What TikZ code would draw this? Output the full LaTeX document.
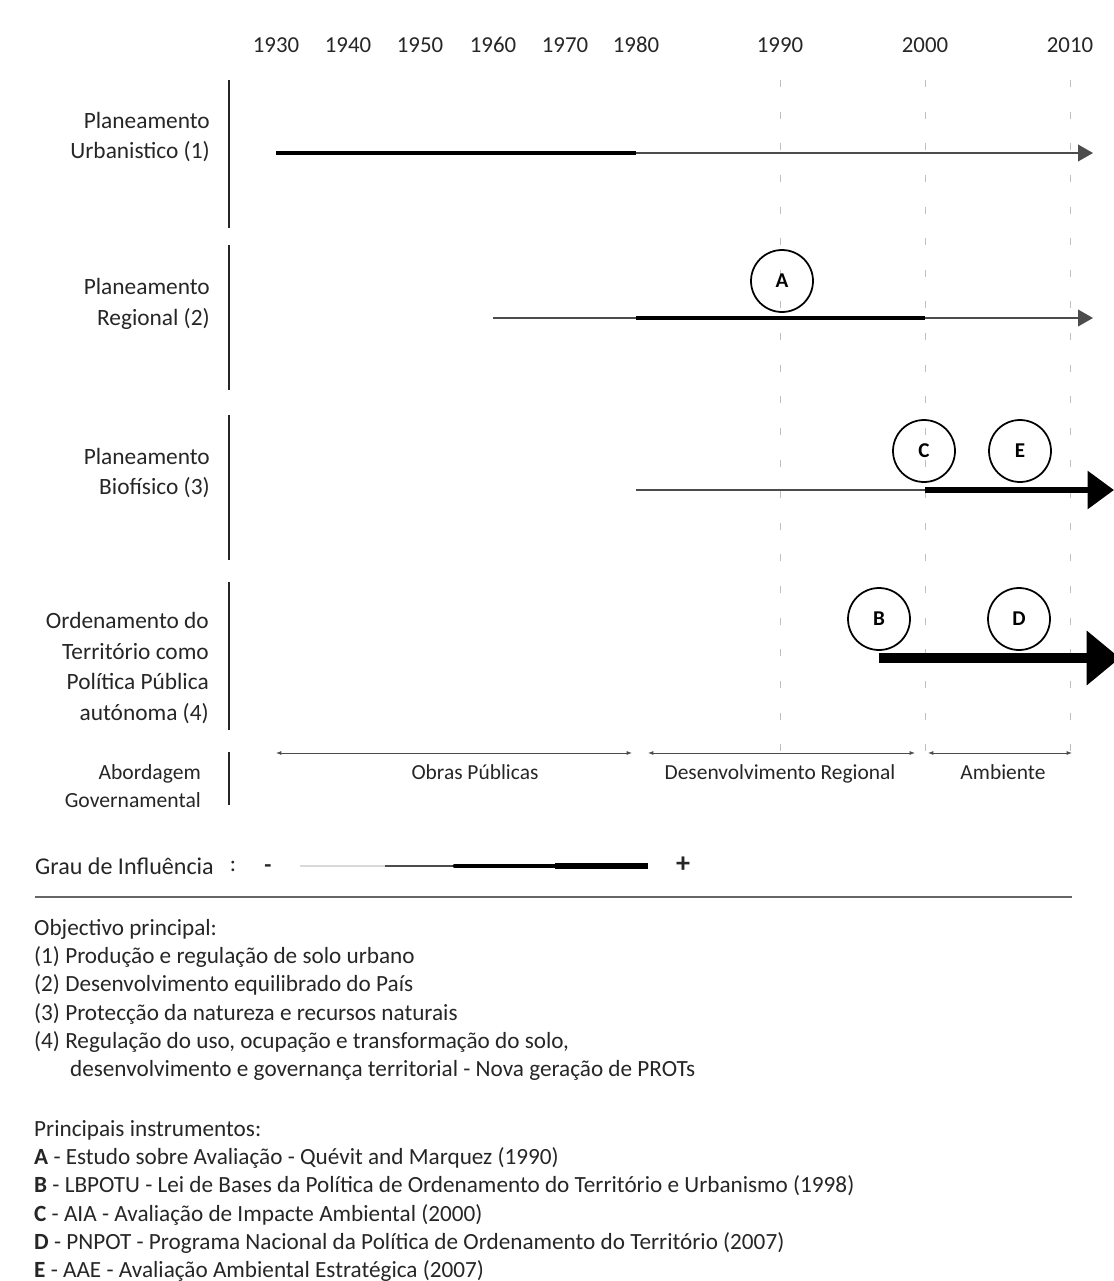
\documentclass[tikz,border=0pt]{standalone}
\usepackage{fontspec}
\setmainfont{Carlito}
\usetikzlibrary{arrows.meta}

\tikzset{
  year/.style={font=\fontsize{13}{15}\selectfont, text=black!85},
  rowlabel/.style={anchor=east, align=right, text=black!85,
    font=\fontsize{13.3}{17.5}\selectfont},
  bar/.style={line width=1.7pt, black!85},
  guide/.style={black!25, line width=0.4pt, dash pattern=on 4pt off 14pt},
  weak/.style={line width=0.8pt, black!70},
  strong/.style={line width=2.3pt},
  stronger/.style={line width=3.4pt},
  strongest/.style={line width=5.7pt},
  instr/.style={draw, circle, line width=1pt, minimum size=1.24cm,
    font=\fontsize{12}{14}\selectfont\bfseries},
  span/.style={line width=0.5pt, black!70, {Latex[length=3pt]}-{Latex[length=3pt]}},
  small/.style={font=\fontsize{12.2}{14}\selectfont, text=black!85,
    text height=1.6ex, text depth=0.5ex},
  legend/.style={anchor=north west, align=left, text=black!85,
    font=\fontsize{13.2}{16.1}\selectfont}
}

\begin{document}
\begin{tikzpicture}[x=0.02cm, y=-0.02cm]
\useasboundingbox (0,0) rectangle (1114,1281);

\node[year] (y1930) at (276,45) {1930};
\node[year] (y1940) at (348,45) {1940};
\node[year] (y1950) at (420,45) {1950};
\node[year] (y1960) at (493,45) {1960};
\node[year] (y1970) at (565,45) {1970};
\node[year] (y1980) at (636,45) {1980};
\node[year] (y1990) at (780,45) {1990};
\node[year] (y2000) at (925,45) {2000};
\node[year] (y2010) at (1070,45) {2010};

\coordinate (top) at (0,80);
\coordinate (r1) at (0,153);
\coordinate (r2) at (0,318);
\coordinate (r3) at (0,490);
\coordinate (r4) at (0,658);
\coordinate (ab) at (0,753);

\foreach \yr in {1990,2000,2010}
  \draw[guide] (y\yr |- top) -- (y\yr |- ab);

\draw[bar] (229,80) -- (229,228);
\draw[bar] (229,245) -- (229,390);
\draw[bar] (229,415) -- (229,560);
\draw[bar] (229,582) -- (229,730);
\draw[bar] (229,752) -- (229,805);

\node[rowlabel] (l1) at (216,137) {Planeamento\\Urbanistico (1)};
\node[rowlabel] (l2) at (216,304) {Planeamento\\Regional (2)};
\node[rowlabel] (l3) at (216,473) {Planeamento\\Biofísico (3)};
\node[rowlabel] (l4) at (215,668) {Ordenamento do\\Território como\\Política Pública\\autónoma (4)};
\node[rowlabel, font=\fontsize{12.3}{15.9}\selectfont] (l5) at (207,786) {Abordagem\\Governamental};

\node[instr] (A) at (782,281) {A};
\node[instr] (C) at (924,451) {C};
\node[instr] (E) at (1020,451) {E};
\node[instr] (B) at (879,619) {B};
\node[instr] (D) at (1019,619) {D};

\coordinate (e1) at (1093,153);
\coordinate (e2) at (1093,318);
\coordinate (e3) at (1114,490);
\coordinate (e4) at (1120,658);

\draw[strong] (y1930 |- r1) -- (y1980 |- r1);
\draw[weak, -{Triangle[length=8.5pt, width=9.5pt]}] (y1980 |- r1) -- (e1);

\draw[weak, -{Triangle[length=8.5pt, width=9.5pt]}] (y1960 |- r2) -- (e2);
\draw[strong] (y1980 |- r2) -- (y2000 |- r2);

\draw[weak] (y1980 |- r3) -- (y2000 |- r3);
\draw[stronger, -{Triangle[length=15pt, width=21pt]}] (y2000 |- r3) -- (e3);

\draw[strongest, -{Triangle[length=19pt, width=30pt]}] (B.south |- r4) -- (e4);

\coordinate (op1) at (276,753);
\coordinate (op2) at (632,753);
\coordinate (dr1) at (648,753);
\coordinate (dr2) at (915,753);
\coordinate (am1) at (928,753);
\coordinate (am2) at (1072,753);
\draw[span] (op1) -- (op2);
\draw[span] (dr1) -- (dr2);
\draw[span] (am1) -- (am2);
\node[small] (op) at (475,775) {Obras Públicas};
\node[small] (dr) at (780,775) {Desenvolvimento Regional};
\node[small] (am) at (1003,775) {Ambiente};

\node[legend, anchor=west, font=\fontsize{13.7}{15}\selectfont] (grau) at (29,866) {Grau de Influência};
\node[legend, anchor=center] (colon) at (233,866) {:};
\node[legend, anchor=center] (minus) at (268,869) {\textbf{-}};
\node[legend, anchor=center, font=\fontsize{16}{18}\selectfont\bfseries] (plus) at (683,865) {+};
\coordinate (g1) at (300,866);
\coordinate (g2) at (385,866);
\coordinate (g3) at (455,866);
\coordinate (g4) at (555,866);
\coordinate (g5) at (648,866);
\draw[black!15, line width=0.8pt] (g1) -- (g2);
\draw[weak] (g2) -- (g3);
\draw[line width=2.6pt, line cap=round] (g3) -- (g4);
\draw[line width=3.6pt] (g4) -- (g5);

\draw[black!60, line width=1.2pt] (35,897) -- (1072,897);

\node[legend] (obj) at (28,913) {Objectivo principal:\\
(1) Produção e regulação de solo urbano\\
(2) Desenvolvimento equilibrado do País\\
(3) Protecção da natureza e recursos naturais\\
(4) Regulação do uso, ocupação e transformação do solo,\\
\hspace*{1.55em}desenvolvimento e governança territorial - Nova geração de PROTs};

\node[legend] (ins) at (28,1114) {Principais instrumentos:\\
\textbf{A} - Estudo sobre Avaliação - Quévit and Marquez (1990)\\
\textbf{B} - LBPOTU - Lei de Bases da Política de Ordenamento do Território e Urbanismo (1998)\\
\textbf{C} - AIA - Avaliação de Impacte Ambiental (2000)\\
\textbf{D} - PNPOT - Programa Nacional da Política de Ordenamento do Território (2007)\\
\textbf{E} - AAE - Avaliação Ambiental Estratégica (2007)};

\end{tikzpicture}
\end{document}
